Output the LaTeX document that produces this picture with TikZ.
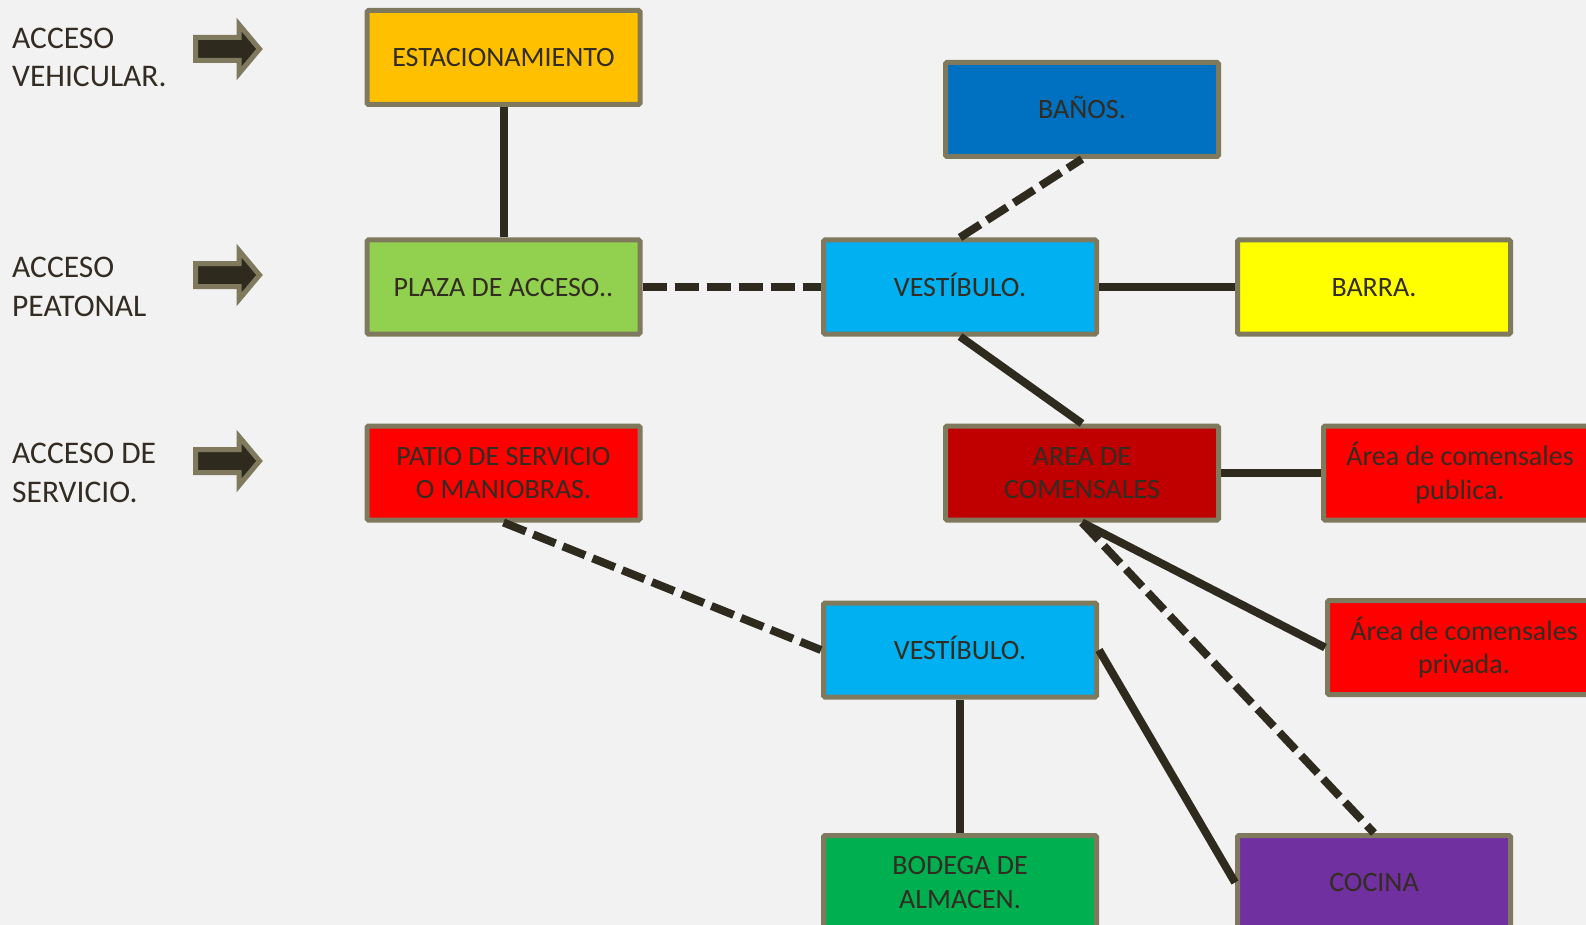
\documentclass[tikz,border=0pt]{standalone}
\usepackage{fontspec}
\setmainfont{Carlito}

\definecolor{fondo}{HTML}{F2F2F2}
\definecolor{borde}{RGB}{127,122,94}
\definecolor{linea}{RGB}{46,42,30}
\definecolor{texto}{RGB}{50,44,34}
\definecolor{estac}{HTML}{FFC000}
\definecolor{banos}{HTML}{0070C0}
\definecolor{plaza}{HTML}{92D050}
\definecolor{vest}{HTML}{00B0F0}
\definecolor{barra}{HTML}{FFFF00}
\definecolor{rojo}{HTML}{FF0000}
\definecolor{comens}{HTML}{C00000}
\definecolor{bodega}{HTML}{00B050}
\definecolor{cocina}{HTML}{7030A0}

\tikzset{
  caja/.style={draw=borde, line width=5pt, rounded corners=1.5pt,
    minimum width=273pt, minimum height=94pt, inner sep=0pt,
    align=center, text=texto, font=\fontsize{28}{33.5}\selectfont},
  unalinea/.style={caja, text height=18pt, text depth=-1pt},
  acceso/.style={anchor=west, inner sep=0pt, align=left, text=texto,
    font=\fontsize{31.5}{38.5}\selectfont},
  flecha/.style={draw=borde, fill=linea, line width=5pt, line join=miter},
  punteado/.style={dash pattern=on 24pt off 8pt},
}

\begin{document}
\begin{tikzpicture}[x=1pt,y=-1pt]
      \useasboundingbox[fill=fondo] (0,0) rectangle (1586,925);
      \draw
        (12,57.5) node[acceso] (avehicular){ACCESO\\VEHICULAR.}
        (12,287) node[acceso] (apeatonal){ACCESO\\PEATONAL}
        (12,473) node[acceso] (aservicio){ACCESO DE\\SERVICIO.};
      \foreach \y in {49,275,461}
        \draw[flecha] (195.5,\y-11.5) -- (239,\y-11.5) -- (239,\y-24.5)
          -- (259.5,\y) -- (239,\y+24.5) -- (239,\y+11.5)
          -- (195.5,\y+11.5) -- cycle;
      \draw
        (503.5,57.5) node[unalinea, fill=estac] (estac){ESTACIONAMIENTO}
        (1082,109.5) node[unalinea, fill=banos] (banos){BAÑOS.}
        (503.5,287) node[unalinea, fill=plaza] (plaza){PLAZA DE ACCESO..}
        (960,287) node[unalinea, fill=vest] (vest1){VESTÍBULO.}
        (1374,287) node[unalinea, fill=barra] (barra){BARRA.}
        (503.5,473) node[caja, fill=rojo] (patio){PATIO DE SERVICIO\\O MANIOBRAS.}
        (1082,473) node[caja, fill=comens] (comens){AREA DE\\COMENSALES}
        (1460,473) node[caja, fill=rojo] (publica){Área de comensales\\publica.}
        (1464,647.5) node[caja, fill=rojo] (privada){Área de comensales\\privada.}
        (960,650) node[unalinea, fill=vest] (vest2){VESTÍBULO.}
        (960,882.5) node[caja, fill=bodega] (bodega){BODEGA DE\\ALMACEN.}
        (1374,882.5) node[unalinea, fill=cocina] (cocina){COCINA};
      \begin{scope}[draw=linea, line width=8pt]
        \draw (estac.south) to (plaza.north);
        \draw[punteado] (plaza.east) to (vest1.west);
        \draw[punteado] (vest1.north) to (banos.south);
        \draw (vest1.east) to (barra.west);
        \draw (vest1.south) to (comens.north);
        \draw (comens.east) to (publica.west);
        \draw (comens.south) to (privada.west);
        \draw[punteado] (comens.south) to (cocina.north);
        \draw[punteado] (patio.south) to (vest2.west);
        \draw (vest2.south) to (bodega.north);
        \draw (vest2.east) to (cocina.west);
      \end{scope}
    \end{tikzpicture}
\end{document}
